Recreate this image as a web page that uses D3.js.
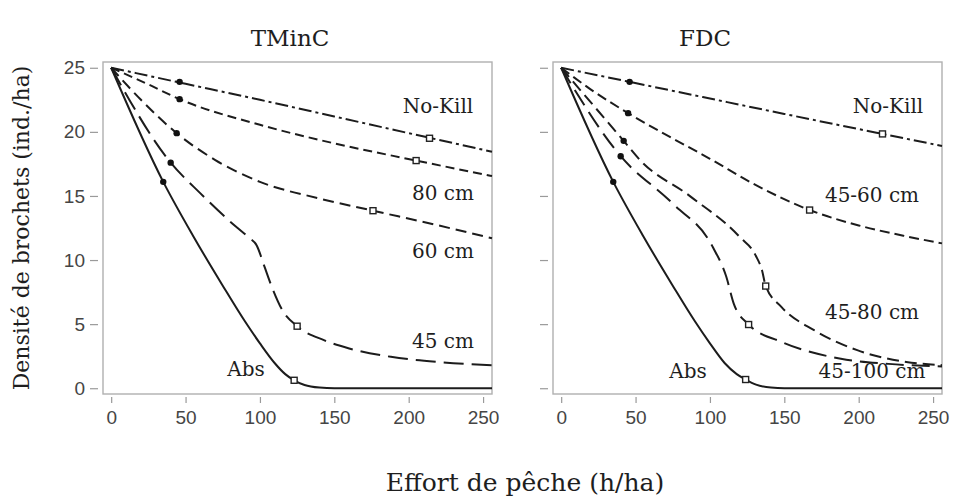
<!DOCTYPE html>
<html>
<head>
<meta charset="utf-8">
<script src="https://cdn.jsdelivr.net/npm/d3@7"></script>
<style>
  body { margin:0; background:#fff; }
  .serif { font-family:"DejaVu Serif", serif; fill:#1e1e1e; }
  .tick text { font-family:"Liberation Sans", Arial, sans-serif; fill:#454545; }
</style>
</head>
<body>
<div id="chart"></div>
<script>
// ticks
var xTicks = [0, 50, 100, 150, 200, 250];
var yTicks = [0, 5, 10, 15, 20, 25];

// TMinC panel (effort h/ha, density ind./ha)
var tmincNoKill = [[0,25],[50,23.75],[100,22.5],[150,21.2],[200,19.9],[256,18.45]];
var tminc80 = [[0,25],[25,23.7],[46,22.55],[100,20.55],[150,19.1],[205,17.76],[256,16.55]];
var tminc60 = [[0,25],[20,22.5],[44,19.9],[70,17.8],[100,16.1],[140,14.8],[176,13.85],[220,12.7],[256,11.7]];
var tminc45 = [[0,25],[40,17.6],[60,15.2],[80,13.0],[92,11.8],[98,11.1],[103,9.5],[108,7.9],[115,6.1],[125,4.84],[143,3.75],[160,3.1],[188,2.45],[220,2.05],[256,1.8]];
var tmincAbs = [[0,25],[35,16.1],[55,11.9],[75,8.0],[90,5.2],[100,3.5],[110,1.95],[117,1.1],[123,0.62],[130,0.25],[140,0.05],[150,0],[256,0]];
var tmincDots = [[46,23.9],[46,22.55],[44,19.9],[40,17.6],[35,16.1]];
var tmincSquares = [[214,19.5],[205,17.76],[176,13.85],[125,4.84],[123,0.62]];

// FDC panel
var fdcNoKill = [[0,25],[46,23.9],[100,22.6],[150,21.4],[216,19.84],[256,18.9]];
var fdc4560 = [[0,25],[20,23.3],[45,21.46],[70,19.8],[100,17.9],[130,15.9],[167,13.9],[200,12.7],[230,11.9],[256,11.3]];
var fdc4580 = [[0,25],[42,19.3],[53,17.8],[87,14.95],[120,11.8],[131,10.3],[135,9.2],[137.5,7.97],[148,6.35],[170,4.53],[199,2.97],[232,2.05],[256,1.8]];
var fdc45100 = [[0,25],[40,18.1],[75,14.4],[102,11.0],[111,8.7],[116,6.6],[126,4.97],[148,3.62],[188,2.3],[220,1.9],[256,1.7]];
var fdcAbs = [[0,25],[35,16.1],[55,11.9],[75,8.0],[90,5.2],[100,3.5],[110,1.95],[118,1.1],[124,0.68],[131,0.28],[141,0.05],[150,0],[256,0]];
var fdcDots = [[46,23.9],[45,21.46],[42,19.3],[40,18.1],[35,16.1]];
var fdcSquares = [[216,19.84],[167,13.9],[137.5,7.97],[126,4.97],[124,0.68]];

var width = 957, height = 497;
var svg = d3.select("#chart").append("svg")
  .attr("width", width)
  .attr("height", height);

var y_scale = d3.scaleLinear().domain([-0.45, 25.45]).range([394, 62]);

var panels = [
  {title:"TMinC", tx:290, left:103, right:492, labels:true,
   lines:[
     {data:tmincNoKill, dash:"13,4,3,4"},
     {data:tminc80, dash:"9,5"},
     {data:tminc60, dash:"11,6"},
     {data:tminc45, dash:"20,8"},
     {data:tmincAbs, dash:null}
   ],
   dots:tmincDots, squares:tmincSquares,
   notes:[["No-Kill",438,113],["80 cm",443,200],["60 cm",443,258],["45 cm",443,348],["Abs",246,376]]},
  {title:"FDC", tx:705, left:553, right:942, labels:false,
   lines:[
     {data:fdcNoKill, dash:"13,4,3,4"},
     {data:fdc4560, dash:"10,5"},
     {data:fdc4580, dash:"12,6"},
     {data:fdc45100, dash:"18,8"},
     {data:fdcAbs, dash:null}
   ],
   dots:fdcDots, squares:fdcSquares,
   notes:[["No-Kill",888,113],["45-60 cm",872,202],["45-80 cm",872,319],["45-100 cm",872,378],["Abs",688,378]]}
];

panels.forEach(function(p){
  var x_scale = d3.scaleLinear().domain([-5.5, 256]).range([p.left, p.right]);
  var g = svg.append("g");

  // frame
  g.append("rect")
    .attr("x", p.left).attr("y", 62)
    .attr("width", p.right - p.left).attr("height", 332)
    .style("fill", "none").style("stroke", "#b0b0b0").style("stroke-width", 1.4);

  var xAxis = g.append("g")
    .attr("transform", "translate(0,397)")
    .call(d3.axisBottom(x_scale).tickValues(xTicks).tickSize(6).tickPadding(8));
  var yAxis = g.append("g")
    .attr("transform", "translate(" + (p.left - 5) + ",0)")
    .call(d3.axisLeft(y_scale).tickValues(yTicks).tickSize(8).tickPadding(5)
      .tickFormat(p.labels ? d3.format("d") : ""));
  [xAxis, yAxis].forEach(function(a){
    a.select(".domain").remove();
    a.selectAll(".tick line").style("stroke", "#9a9a9a").style("stroke-width", 1.2);
    a.selectAll(".tick text").style("font-size", "19px");
  });

  var line_generator = d3.line()
    .curve(d3.curveMonotoneX)
    .x(function(d){ return x_scale(d[0]); })
    .y(function(d){ return y_scale(d[1]); });

  g.selectAll(".curve").data(p.lines).enter()
    .append("path")
    .attr("class", "curve")
    .attr("d", function(d){ return line_generator(d.data); })
    .style("fill", "none")
    .style("stroke", "#1c1c1c")
    .style("stroke-width", 2)
    .style("stroke-dasharray", function(d){ return d.dash; });

  g.selectAll(".dot").data(p.dots).enter()
    .append("circle")
    .attr("cx", function(d){ return x_scale(d[0]); })
    .attr("cy", function(d){ return y_scale(d[1]); })
    .attr("r", 3.2)
    .style("fill", "#111");

  g.selectAll(".sq").data(p.squares).enter()
    .append("rect")
    .attr("x", function(d){ return x_scale(d[0]) - 3; })
    .attr("y", function(d){ return y_scale(d[1]) - 3; })
    .attr("width", 6).attr("height", 6)
    .style("fill", "#fff")
    .style("stroke", "#222")
    .style("stroke-width", 1.4);

  g.selectAll(".note").data(p.notes).enter()
    .append("text")
    .attr("class", "serif")
    .attr("x", function(d){ return d[1]; })
    .attr("y", function(d){ return d[2]; })
    .attr("text-anchor", "middle")
    .style("font-size", "20px")
    .text(function(d){ return d[0]; });

  svg.append("text")
    .attr("class", "serif")
    .attr("x", p.tx).attr("y", 46)
    .attr("text-anchor", "middle")
    .style("font-size", "23px")
    .text(p.title);
});

svg.append("text")
  .attr("class", "serif")
  .attr("transform", "translate(29,228) rotate(-90)")
  .attr("text-anchor", "middle")
  .style("font-size", "22px")
  .text("Densité de brochets (ind./ha)");

svg.append("text")
  .attr("class", "serif")
  .attr("x", 525).attr("y", 491)
  .attr("text-anchor", "middle")
  .style("font-size", "25px")
  .text("Effort de pêche (h/ha)");
</script>
</body>
</html>
